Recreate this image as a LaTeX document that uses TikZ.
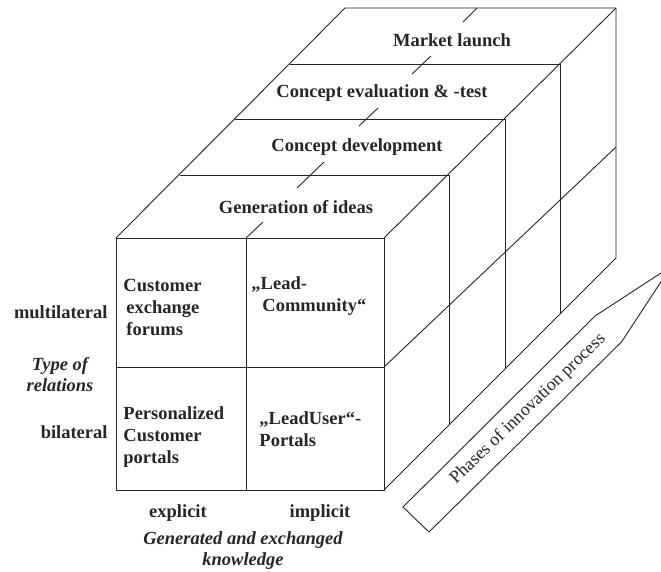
\documentclass[tikz,border=0pt]{standalone}
\usepackage{fontspec}
\setmainfont{Liberation Serif}
\begin{document}
\begin{tikzpicture}[x=1pt,y=-1pt, line width=0.9pt, line join=miter,
  edge/.style={draw=black!85},
  lbl/.style={font=\fontsize{18.5}{22}\selectfont\bfseries, inner sep=0pt, text=black!85},
  ital/.style={font=\fontsize{18.5}{21}\selectfont\bfseries\itshape, inner sep=0pt, text=black!85, align=center},
  cell/.style={lbl, align=left, anchor=west},
  arrowtxt/.style={font=\fontsize{18}{20}\selectfont, inner sep=0pt, text=black!85}]
\useasboundingbox (0,0) rectangle (661,571);
\clip (0,0) rectangle (661,571);
% corners
\coordinate (FTL) at (116,238);
\coordinate (FTR) at (384,238);
\coordinate (FBR) at (384,490);
\coordinate (FBL) at (116,490);
\coordinate (BTL) at (345,8);
\coordinate (BTR) at (616,8);
\coordinate (BBR) at (616,258);
% front face
\draw[edge] (FTL) rectangle (FBR);
\draw[edge] (246,238) -- (246,490);
\draw[edge] (116,367) -- (384,367);
% top and side outline
\draw[edge] (FTL) -- (BTL) -- (BTR) -- (BBR) -- (FBR);
\draw[edge] (FTR) -- (BTR);
% phase slabs
\draw[edge] (180,175) -- (449,175) -- (449,425);
\draw[edge] (235,119) -- (505,119) -- (505,369);
\draw[edge] (290,64) -- (560,64) -- (560,314);
% middle diagonal on side face
\draw[edge] (384,367) -- (616,147);
% middle line on top face (partly hidden by labels)
\draw[edge] (246,238) -- (263,222);
\draw[edge] (297,188) -- (324,162);
\draw[edge] (359,126) -- (378,108);
\draw[edge] (412,74) -- (431,56);
\draw[edge] (463,22) -- (477,8);
% arrow
\coordinate (A1) at (403,507);
\coordinate (A2) at (595,316);
\coordinate (A3) at (671,266.5);
\coordinate (A4) at (621.7,341.7);
\coordinate (A5) at (429,532);
\draw[edge] (A1) -- (A2) -- (A3) -- (A4) -- (A5) -- cycle;
\node[arrowtxt, rotate=44] (phases) at (528,409) {Phases of innovation process};
% slab labels
\node[lbl] (ml) at (452,40) {Market launch};
\node[lbl] (ce) at (382,93) {Concept evaluation \& -test};
\node[lbl] (cd) at (357,147) {Concept development};
\node[lbl] (gi) at (296,207) {Generation of ideas};
% cells
\node[cell] (c11) at (123,307) {Customer\\\hspace*{3pt}exchange\\\hspace*{3pt}forums};
\node[cell] (c12) at (251,296) {„Lead-\\\hspace*{11pt}Community“};
\node[cell] (c21) at (123,437) {Personalized\\Customer\\portals};
\node[cell] (c22) at (259,429) {„LeadUser“-\\Portals};
% axis labels
\node[lbl, anchor=east] (multi) at (108,312) {multilateral};
\node[lbl, anchor=east] (bi) at (108,432) {bilateral};
\node[ital] (type) at (60,375) {Type of\\relations};
\node[lbl] (expl) at (178,513) {explicit};
\node[lbl] (impl) at (320,513) {implicit};
\node[ital] (gen) at (243,551) {Generated and exchanged\\knowledge};
\end{tikzpicture}
\end{document}
